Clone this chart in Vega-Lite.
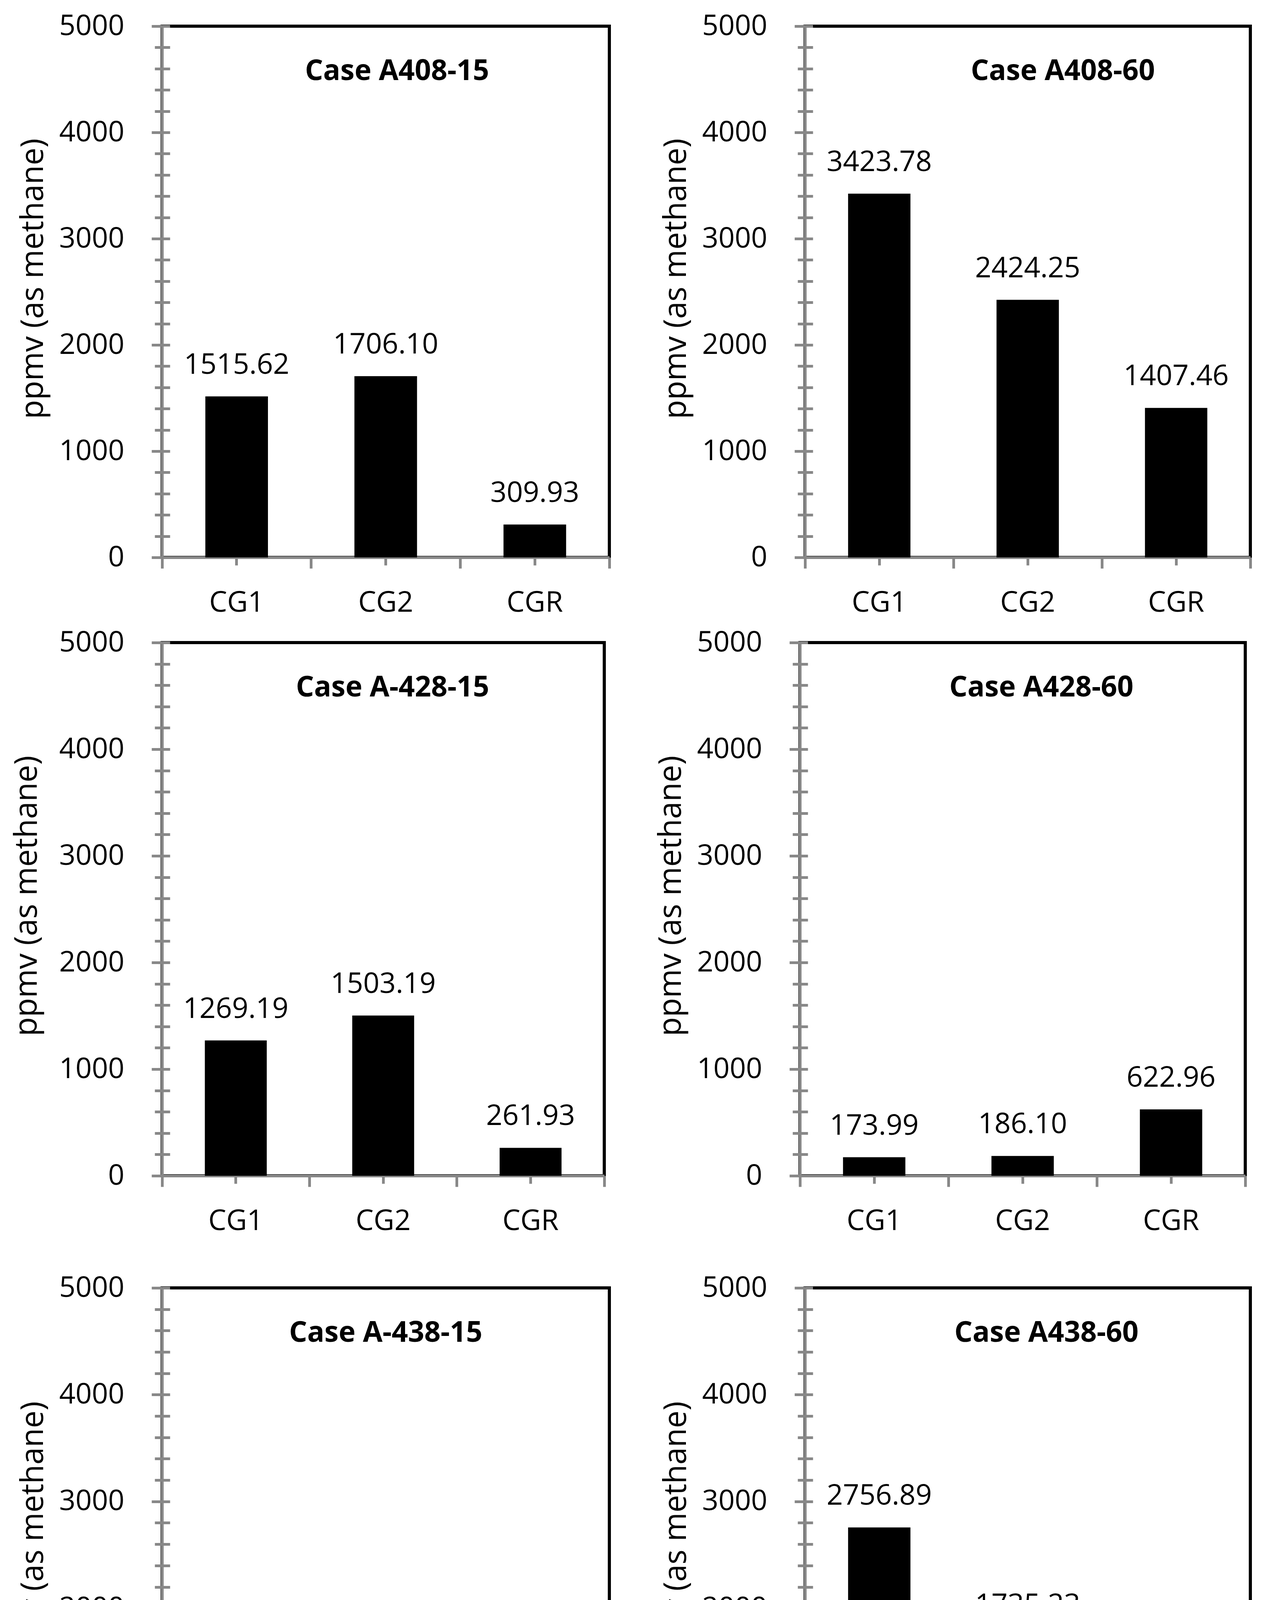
{
  "$schema": "https://vega.github.io/schema/vega-lite/v6.json",
  "padding": {"left": 25, "top": 27, "right": 0, "bottom": 0},
  "background": "white",
  "config": {
    "font": "Open Sans",
    "view": {"stroke": "#000000", "strokeWidth": 8},
    "axis": {
      "labelFont": "Open Sans", "labelFontSize": 73, "labelColor": "#000000", "labelLimit": 1000,
      "tickColor": "#888888", "tickWidth": 7, "domainColor": "#888888", "domainWidth": 7,
      "titleFont": "Open Sans", "titleFontSize": 80, "titleFontWeight": "normal", "titleColor": "#000000",
      "grid": false, "labelOverlap": false, "labelFlush": false
    },
    "axisY": {"format": "d"},
    "title": {"font": "Open Sans", "fontSize": 73, "fontWeight": "bold", "color": "#000000", "anchor": "middle", "frame": "group", "offset": -189},
    "text": {"font": "Open Sans", "fontSize": 73, "color": "#000000"}
  },
  "vconcat": [
    {
      "vconcat": [
        {
          "hconcat": [
            {
              "width": 1145, "height": 1360,
              "title": {"text": "Case A408-15", "dx": 29},
              "data": {"values": [{"cat": "CG1", "v": 1515.62}, {"cat": "CG2", "v": 1706.10}, {"cat": "CGR", "v": 309.93}]},
              "layer": [
                {"mark": {"type": "bar", "color": "#000000", "width": {"band": 0.42}},
                 "encoding": {
                   "x": {"field": "cat", "type": "nominal", "scale": {"paddingInner": 0, "paddingOuter": 0}, "axis": {"orient": "bottom", "bandPosition": 1, "tickExtra": true, "tickSize": 28, "labels": false, "title": null, "domain": true}},
                   "y": {"field": "v", "type": "quantitative", "scale": {"domain": [0, 5000]}, "axis": {"orient": "left", "values": [0,200,400,600,800,1000,1200,1400,1600,1800,2000,2200,2400,2600,2800,3000,3200,3400,3600,3800,4000,4200,4400,4600,4800,5000], "tickSize": 19, "labelPadding": 78, "labelExpr": "datum.value % 1000 === 0 ? datum.label : ''", "title": "ppmv (as methane)", "titlePadding": 89, "titleY": 646, "domain": true}}
                 }},
                {"mark": {"type": "text", "baseline": "alphabetic", "dy": -58},
                 "encoding": {
                   "x": {"field": "cat", "type": "nominal", "axis": {"orient": "bottom", "tickSize": 20, "labelPadding": 60, "labelAngle": 0, "title": null, "domain": false}},
                   "y": {"field": "v", "type": "quantitative", "axis": {"orient": "left", "values": [0,200,400,600,800,1000,1200,1400,1600,1800,2000,2200,2400,2600,2800,3000,3200,3400,3600,3800,4000,4200,4400,4600,4800,5000], "tickSize": -20, "labels": false, "title": null, "domain": false}},
                   "text": {"field": "v", "type": "quantitative", "format": ".2f"}
                 }},
                {"mark": {"type": "bar", "opacity": 0, "width": {"band": 0.42}},
                 "encoding": {
                   "x": {"field": "cat", "type": "nominal", "axis": {"orient": "bottom", "tickSize": -20, "labels": false, "title": null, "domain": false}},
                   "y": {"field": "v", "type": "quantitative", "axis": {"orient": "left", "values": [0,1000,2000,3000,4000,5000], "tickSize": 27, "labels": false, "title": null, "domain": false}}
                 }}
              ],
              "resolve": {"axis": {"x": "independent", "y": "independent"}}
            },
            {
              "width": 1140, "height": 1360,
              "title": {"text": "Case A408-60", "dx": 90},
              "data": {"values": [{"cat": "CG1", "v": 3423.78}, {"cat": "CG2", "v": 2424.25}, {"cat": "CGR", "v": 1407.46}]},
              "layer": [
                {"mark": {"type": "bar", "color": "#000000", "width": {"band": 0.42}},
                 "encoding": {
                   "x": {"field": "cat", "type": "nominal", "scale": {"paddingInner": 0, "paddingOuter": 0}, "axis": {"orient": "bottom", "bandPosition": 1, "tickExtra": true, "tickSize": 28, "labels": false, "title": null, "domain": true}},
                   "y": {"field": "v", "type": "quantitative", "scale": {"domain": [0, 5000]}, "axis": {"orient": "left", "values": [0,200,400,600,800,1000,1200,1400,1600,1800,2000,2200,2400,2600,2800,3000,3200,3400,3600,3800,4000,4200,4400,4600,4800,5000], "tickSize": 19, "labelPadding": 78, "labelExpr": "datum.value % 1000 === 0 ? datum.label : ''", "title": "ppmv (as methane)", "titlePadding": 89, "titleY": 646, "domain": true}}
                 }},
                {"mark": {"type": "text", "baseline": "alphabetic", "dy": -58},
                 "encoding": {
                   "x": {"field": "cat", "type": "nominal", "axis": {"orient": "bottom", "tickSize": 20, "labelPadding": 60, "labelAngle": 0, "title": null, "domain": false}},
                   "y": {"field": "v", "type": "quantitative", "axis": {"orient": "left", "values": [0,200,400,600,800,1000,1200,1400,1600,1800,2000,2200,2400,2600,2800,3000,3200,3400,3600,3800,4000,4200,4400,4600,4800,5000], "tickSize": -20, "labels": false, "title": null, "domain": false}},
                   "text": {"field": "v", "type": "quantitative", "format": ".2f"}
                 }},
                {"mark": {"type": "bar", "opacity": 0, "width": {"band": 0.42}},
                 "encoding": {
                   "x": {"field": "cat", "type": "nominal", "axis": {"orient": "bottom", "tickSize": -20, "labels": false, "title": null, "domain": false}},
                   "y": {"field": "v", "type": "quantitative", "axis": {"orient": "left", "values": [0,1000,2000,3000,4000,5000], "tickSize": 27, "labels": false, "title": null, "domain": false}}
                 }}
              ],
              "resolve": {"axis": {"x": "independent", "y": "independent"}}
            }
          ],
          "spacing": 119
        },
        {
          "hconcat": [
            {
              "width": 1132, "height": 1365,
              "title": {"text": "Case A-428-15", "dx": 24},
              "data": {"values": [{"cat": "CG1", "v": 1269.19}, {"cat": "CG2", "v": 1503.19}, {"cat": "CGR", "v": 261.93}]},
              "layer": [
                {"mark": {"type": "bar", "color": "#000000", "width": {"band": 0.42}},
                 "encoding": {
                   "x": {"field": "cat", "type": "nominal", "scale": {"paddingInner": 0, "paddingOuter": 0}, "axis": {"orient": "bottom", "bandPosition": 1, "tickExtra": true, "tickSize": 28, "labels": false, "title": null, "domain": true}},
                   "y": {"field": "v", "type": "quantitative", "scale": {"domain": [0, 5000]}, "axis": {"orient": "left", "values": [0,200,400,600,800,1000,1200,1400,1600,1800,2000,2200,2400,2600,2800,3000,3200,3400,3600,3800,4000,4200,4400,4600,4800,5000], "tickSize": 19, "labelPadding": 78, "labelExpr": "datum.value % 1000 === 0 ? datum.label : ''", "title": "ppmv (as methane)", "titlePadding": 105, "titleY": 648, "domain": true}}
                 }},
                {"mark": {"type": "text", "baseline": "alphabetic", "dy": -58},
                 "encoding": {
                   "x": {"field": "cat", "type": "nominal", "axis": {"orient": "bottom", "tickSize": 20, "labelPadding": 60, "labelAngle": 0, "title": null, "domain": false}},
                   "y": {"field": "v", "type": "quantitative", "axis": {"orient": "left", "values": [0,200,400,600,800,1000,1200,1400,1600,1800,2000,2200,2400,2600,2800,3000,3200,3400,3600,3800,4000,4200,4400,4600,4800,5000], "tickSize": -20, "labels": false, "title": null, "domain": false}},
                   "text": {"field": "v", "type": "quantitative", "format": ".2f"}
                 }},
                {"mark": {"type": "bar", "opacity": 0, "width": {"band": 0.42}},
                 "encoding": {
                   "x": {"field": "cat", "type": "nominal", "axis": {"orient": "bottom", "tickSize": -20, "labels": false, "title": null, "domain": false}},
                   "y": {"field": "v", "type": "quantitative", "axis": {"orient": "left", "values": [0,1000,2000,3000,4000,5000], "tickSize": 27, "labels": false, "title": null, "domain": false}}
                 }}
              ],
              "resolve": {"axis": {"x": "independent", "y": "independent"}}
            },
            {
              "width": 1140, "height": 1365,
              "title": {"text": "Case A428-60", "dx": 48},
              "data": {"values": [{"cat": "CG1", "v": 173.99}, {"cat": "CG2", "v": 186.10}, {"cat": "CGR", "v": 622.96}]},
              "layer": [
                {"mark": {"type": "bar", "color": "#000000", "width": {"band": 0.42}},
                 "encoding": {
                   "x": {"field": "cat", "type": "nominal", "scale": {"paddingInner": 0, "paddingOuter": 0}, "axis": {"orient": "bottom", "bandPosition": 1, "tickExtra": true, "tickSize": 28, "labels": false, "title": null, "domain": true}},
                   "y": {"field": "v", "type": "quantitative", "scale": {"domain": [0, 5000]}, "axis": {"orient": "left", "values": [0,200,400,600,800,1000,1200,1400,1600,1800,2000,2200,2400,2600,2800,3000,3200,3400,3600,3800,4000,4200,4400,4600,4800,5000], "tickSize": 19, "labelPadding": 78, "labelExpr": "datum.value % 1000 === 0 ? datum.label : ''", "title": "ppmv (as methane)", "titlePadding": 89, "titleY": 648, "domain": true}}
                 }},
                {"mark": {"type": "text", "baseline": "alphabetic", "dy": -58},
                 "encoding": {
                   "x": {"field": "cat", "type": "nominal", "axis": {"orient": "bottom", "tickSize": 20, "labelPadding": 60, "labelAngle": 0, "title": null, "domain": false}},
                   "y": {"field": "v", "type": "quantitative", "axis": {"orient": "left", "values": [0,200,400,600,800,1000,1200,1400,1600,1800,2000,2200,2400,2600,2800,3000,3200,3400,3600,3800,4000,4200,4400,4600,4800,5000], "tickSize": -20, "labels": false, "title": null, "domain": false}},
                   "text": {"field": "v", "type": "quantitative", "format": ".2f"}
                 }},
                {"mark": {"type": "bar", "opacity": 0, "width": {"band": 0.42}},
                 "encoding": {
                   "x": {"field": "cat", "type": "nominal", "axis": {"orient": "bottom", "tickSize": -20, "labels": false, "title": null, "domain": false}},
                   "y": {"field": "v", "type": "quantitative", "axis": {"orient": "left", "values": [0,1000,2000,3000,4000,5000], "tickSize": 27, "labels": false, "title": null, "domain": false}}
                 }}
              ],
              "resolve": {"axis": {"x": "independent", "y": "independent"}}
            }
          ],
          "spacing": 119
        }
      ],
      "spacing": 21
    },
    {
      "hconcat": [
        {
          "width": 1145, "height": 1367,
          "title": {"text": "Case A-438-15", "dx": 0},
          "data": {"values": [{"cat": "CG1", "v": 143.28}, {"cat": "CG2", "v": 47.90}, {"cat": "CGR", "v": 539.47}]},
          "layer": [
            {"mark": {"type": "bar", "color": "#000000", "width": {"band": 0.42}},
             "encoding": {
               "x": {"field": "cat", "type": "nominal", "scale": {"paddingInner": 0, "paddingOuter": 0}, "axis": {"orient": "bottom", "bandPosition": 1, "tickExtra": true, "tickSize": 28, "labels": false, "title": null, "domain": true}},
               "y": {"field": "v", "type": "quantitative", "scale": {"domain": [0, 5000]}, "axis": {"orient": "left", "values": [0,200,400,600,800,1000,1200,1400,1600,1800,2000,2200,2400,2600,2800,3000,3200,3400,3600,3800,4000,4200,4400,4600,4800,5000], "tickSize": 19, "labelPadding": 78, "labelExpr": "datum.value % 1000 === 0 ? datum.label : ''", "title": "ppmv (as methane)", "titlePadding": 89, "titleY": 649, "domain": true}}
             }},
            {"mark": {"type": "text", "baseline": "alphabetic", "dy": -58},
             "encoding": {
               "x": {"field": "cat", "type": "nominal", "axis": {"orient": "bottom", "tickSize": 20, "labelPadding": 60, "labelAngle": 0, "title": null, "domain": false}},
               "y": {"field": "v", "type": "quantitative", "axis": {"orient": "left", "values": [0,200,400,600,800,1000,1200,1400,1600,1800,2000,2200,2400,2600,2800,3000,3200,3400,3600,3800,4000,4200,4400,4600,4800,5000], "tickSize": -20, "labels": false, "title": null, "domain": false}},
               "text": {"field": "v", "type": "quantitative", "format": ".2f"}
             }},
            {"mark": {"type": "bar", "opacity": 0, "width": {"band": 0.42}},
             "encoding": {
               "x": {"field": "cat", "type": "nominal", "axis": {"orient": "bottom", "tickSize": -20, "labels": false, "title": null, "domain": false}},
               "y": {"field": "v", "type": "quantitative", "axis": {"orient": "left", "values": [0,1000,2000,3000,4000,5000], "tickSize": 27, "labels": false, "title": null, "domain": false}}
             }}
          ],
          "resolve": {"axis": {"x": "independent", "y": "independent"}}
        },
        {
          "width": 1140, "height": 1367,
          "title": {"text": "Case A438-60", "dx": 48},
          "data": {"values": [{"cat": "CG1", "v": 2756.89}, {"cat": "CG2", "v": 1735.23}, {"cat": "CGR", "v": 500.32}]},
          "layer": [
            {"mark": {"type": "bar", "color": "#000000", "width": {"band": 0.42}},
             "encoding": {
               "x": {"field": "cat", "type": "nominal", "scale": {"paddingInner": 0, "paddingOuter": 0}, "axis": {"orient": "bottom", "bandPosition": 1, "tickExtra": true, "tickSize": 28, "labels": false, "title": null, "domain": true}},
               "y": {"field": "v", "type": "quantitative", "scale": {"domain": [0, 5000]}, "axis": {"orient": "left", "values": [0,200,400,600,800,1000,1200,1400,1600,1800,2000,2200,2400,2600,2800,3000,3200,3400,3600,3800,4000,4200,4400,4600,4800,5000], "tickSize": 19, "labelPadding": 78, "labelExpr": "datum.value % 1000 === 0 ? datum.label : ''", "title": "ppmv (as methane)", "titlePadding": 89, "titleY": 649, "domain": true}}
             }},
            {"mark": {"type": "text", "baseline": "alphabetic", "dy": -58},
             "encoding": {
               "x": {"field": "cat", "type": "nominal", "axis": {"orient": "bottom", "tickSize": 20, "labelPadding": 60, "labelAngle": 0, "title": null, "domain": false}},
               "y": {"field": "v", "type": "quantitative", "axis": {"orient": "left", "values": [0,200,400,600,800,1000,1200,1400,1600,1800,2000,2200,2400,2600,2800,3000,3200,3400,3600,3800,4000,4200,4400,4600,4800,5000], "tickSize": -20, "labels": false, "title": null, "domain": false}},
               "text": {"field": "v", "type": "quantitative", "format": ".2f"}
             }},
            {"mark": {"type": "bar", "opacity": 0, "width": {"band": 0.42}},
             "encoding": {
               "x": {"field": "cat", "type": "nominal", "axis": {"orient": "bottom", "tickSize": -20, "labels": false, "title": null, "domain": false}},
               "y": {"field": "v", "type": "quantitative", "axis": {"orient": "left", "values": [0,1000,2000,3000,4000,5000], "tickSize": 27, "labels": false, "title": null, "domain": false}}
             }}
          ],
          "resolve": {"axis": {"x": "independent", "y": "independent"}}
        }
      ],
      "spacing": 119
    }
  ],
  "spacing": 90
}
